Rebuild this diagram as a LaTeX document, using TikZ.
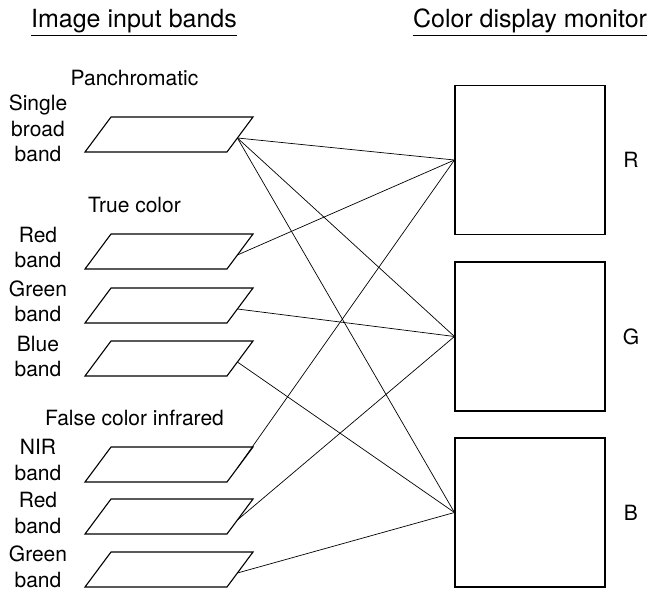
\documentclass[tikz,border=0pt]{standalone}
\usepackage{fontspec}
\setmainfont{TeX Gyre Heros}

\begin{document}
\begin{tikzpicture}[x=1pt, y=-1pt,
    band/.style={line width=1.1pt, line join=miter},
    screen/.style={draw, line width=1.1pt, minimum width=150pt, minimum height=149pt, inner sep=0pt},
    link/.style={line width=0.7pt},
    rule/.style={line width=1.2pt},
    head/.style={font=\fontsize{25}{30}\selectfont, anchor=base, inner sep=0pt},
    lbl/.style={font=\fontsize{21}{25.5}\selectfont, anchor=base, align=center, inner sep=0pt},
    chan/.style={font=\fontsize{21}{25}\selectfont, inner sep=0pt},
]
\useasboundingbox (0,0) rectangle (649,591);

% headings
\node[head] (inh) at (134,28) {Image input bands};
\node[head] (outh) at (530,28) {Color display monitor};
\draw[rule] ([yshift=-1.5pt]inh.south west) -- ([yshift=-1.5pt]inh.south east);
\draw[rule] ([yshift=-1.5pt]outh.south west) -- ([yshift=-1.5pt]outh.south east);

% groups
\node[lbl] (panh) at (134.5,86) {Panchromatic};
\node[lbl] (tch) at (134.5,213) {True color};
\node[lbl] (fch) at (134.5,425) {False color infrared};

% band names (base = last line)
\node[lbl] (panl) at (38,162) {Single\\broad\\band};
\node[lbl] (tcrl) at (38,268) {Red\\band};
\node[lbl] (tcgl) at (38,322) {Green\\band};
\node[lbl] (tcbl) at (38,377) {Blue\\band};
\node[lbl] (fcnl) at (38,480) {NIR\\band};
\node[lbl] (fcrl) at (38,533) {Red\\band};
\node[lbl] (fcgl) at (38,587) {Green\\band};

% bands
\draw[band] (85,152) -- ++(26,-35) -- ++(142,0) -- ++(-26,35) coordinate[pos=0.6] (pan) -- cycle;
\draw[band] (85,269) -- ++(26,-35) -- ++(142,0) -- ++(-26,35) coordinate[pos=0.6] (tcr) -- cycle;
\draw[band] (85,323) -- ++(26,-35) -- ++(142,0) -- ++(-26,35) coordinate[pos=0.6] (tcg) -- cycle;
\draw[band] (85,376) -- ++(26,-35) -- ++(142,0) -- ++(-26,35) coordinate[pos=0.6] (tcb) -- cycle;
\draw[band] (85,482) -- ++(26,-35) -- ++(142,0) -- ++(-26,35) coordinate[pos=0.6] (fcn) -- cycle;
\draw[band] (85,534) -- ++(26,-35) -- ++(142,0) -- ++(-26,35) coordinate[pos=0.6] (fcr) -- cycle;
\draw[band] (85,587) -- ++(26,-35) -- ++(142,0) -- ++(-26,35) coordinate[pos=0.6] (fcg) -- cycle;

% monitor guns
\node[screen] (mR) at (530,160) {};
\node[screen] (mG) at (530,336.5) {};
\node[screen] (mB) at (530,512.5) {};
\node[chan] (lR) at (631,160) {R};
\node[chan] (lG) at (631,336.5) {G};
\node[chan] (lB) at (631,512.5) {B};

% connections
\draw[link] (pan) -- (mR.west);
\draw[link] (pan) -- (mG.west);
\draw[link] (pan) -- (mB.west);
\draw[link] (tcr) -- (mR.west);
\draw[link] (tcg) -- (mG.west);
\draw[link] (tcb) -- (mB.west);
\draw[link] (fcn) -- (mR.west);
\draw[link] (fcr) -- (mG.west);
\draw[link] (fcg) -- (mB.west);
\end{tikzpicture}
\end{document}
